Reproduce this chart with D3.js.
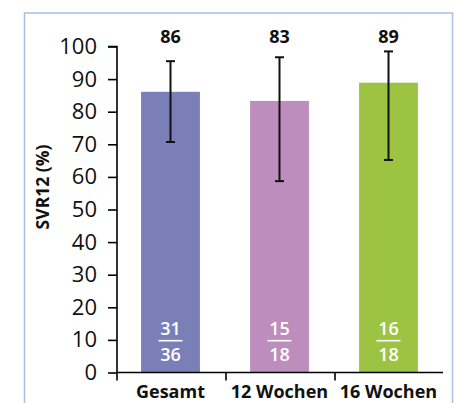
<!DOCTYPE html>
<html><head><meta charset="utf-8">
<script src="https://cdn.jsdelivr.net/npm/d3@7"></script>
<style>body{margin:0;background:#fff}svg{display:block}</style>
</head><body>
<svg id="c" width="455" height="403"></svg>
<script>
const categories = ["Gesamt", "12 Wochen", "16 Wochen"];
const values = [86.1, 83.3, 88.9];
const valueLabels = ["86", "83", "89"];
const errLow = [70.7, 58.7, 65.2];
const errHigh = [95.5, 96.7, 98.5];
const numerators = ["31", "15", "16"];
const denominators = ["36", "18", "18"];
const colors = ["#7b7fb8", "#bd8dbd", "#9dc343"];
const yTicks = [0,10,20,30,40,50,60,70,80,90,100];

const svg = d3.select("#c");
const font = "'Open Sans', sans-serif";

// frame
svg.append("rect").attr("x",24.5).attr("y",13).attr("width",428).attr("height",400)
  .attr("fill","none").attr("stroke","#a8bfe4").attr("stroke-width",1.5);

const y = d3.scaleLinear().domain([0,100]).range([372.5,46.5]);
const x = d3.scaleBand().domain(categories).range([116,443]).paddingInner(0.46).paddingOuter(0.23);

// bars
svg.selectAll(".bar").data(categories).join("rect")
  .attr("x", d => x(d)).attr("width", x.bandwidth())
  .attr("y", (d,i) => y(values[i])).attr("height", (d,i) => y(0) - y(values[i]))
  .attr("fill", (d,i) => colors[i]);

// y axis
const yAxis = d3.axisLeft(y).tickValues(yTicks).tickSize(9).tickPadding(11);
const gy = svg.append("g").attr("transform","translate(117,0)").call(yAxis);
gy.select(".domain").attr("d","M-9,46.5H0V372.5").attr("stroke","#000").attr("stroke-width",1.6);
gy.selectAll(".tick line").attr("stroke","#000").attr("stroke-width",1.6);
gy.selectAll(".tick text").attr("font-family",font).attr("font-size",22).attr("fill","#111");

// x axis
const gx = svg.append("g");
gx.append("line").attr("x1",117).attr("x2",443).attr("y1",y(0)).attr("y2",y(0)).attr("stroke","#000").attr("stroke-width",1.6);
const bounds = [0,1,2].map(i => 116 + x.step()*i + 1);
gx.selectAll(".bt").data(bounds).join("line")
  .attr("x1",d=>d).attr("x2",d=>d).attr("y1",y(0)).attr("y2",y(0)+8)
  .attr("stroke","#000").attr("stroke-width",1.6);
gx.selectAll(".xl").data(categories).join("text")
  .attr("x", d => x(d) + x.bandwidth()/2).attr("y", 398)
  .attr("text-anchor","middle").attr("font-family",font).attr("font-weight","bold")
  .attr("font-size",18).attr("fill","#111").text(d=>d);

// error bars
const eg = svg.append("g").attr("stroke","#111").attr("stroke-width",2);
categories.forEach((c,i) => {
  const cx = x(c) + x.bandwidth()/2;
  eg.append("line").attr("x1",cx).attr("x2",cx).attr("y1",y(errHigh[i])).attr("y2",y(errLow[i]));
  eg.append("line").attr("x1",cx-4.5).attr("x2",cx+4.5).attr("y1",y(errHigh[i])).attr("y2",y(errHigh[i]));
  eg.append("line").attr("x1",cx-4.5).attr("x2",cx+4.5).attr("y1",y(errLow[i])).attr("y2",y(errLow[i]));
});

// value labels
svg.selectAll(".vl").data(categories).join("text")
  .attr("x", d => x(d) + x.bandwidth()/2).attr("y", 43)
  .attr("text-anchor","middle").attr("font-family",font).attr("font-weight","bold")
  .attr("font-size",18).attr("fill","#111").text((d,i)=>valueLabels[i]);

// fractions
categories.forEach((c,i) => {
  const cx = x(c) + x.bandwidth()/2;
  svg.append("text").attr("x",cx).attr("y",334.5).attr("text-anchor","middle")
    .attr("font-family",font).attr("font-weight",600).attr("font-size",18).attr("fill","#fff").text(numerators[i]);
  svg.append("line").attr("x1",cx-12).attr("x2",cx+12).attr("y1",340.7).attr("y2",340.7)
    .attr("stroke","#fff").attr("stroke-width",1.6);
  svg.append("text").attr("x",cx).attr("y",360.5).attr("text-anchor","middle")
    .attr("font-family",font).attr("font-weight",600).attr("font-size",18).attr("fill","#fff").text(denominators[i]);
});

// y label
svg.append("text").attr("transform","translate(49,187) rotate(-90)")
  .attr("text-anchor","middle").attr("font-family",font).attr("font-weight","bold")
  .attr("font-size",17.5).attr("fill","#111").text("SVR12 (%)");
</script>
</body></html>
